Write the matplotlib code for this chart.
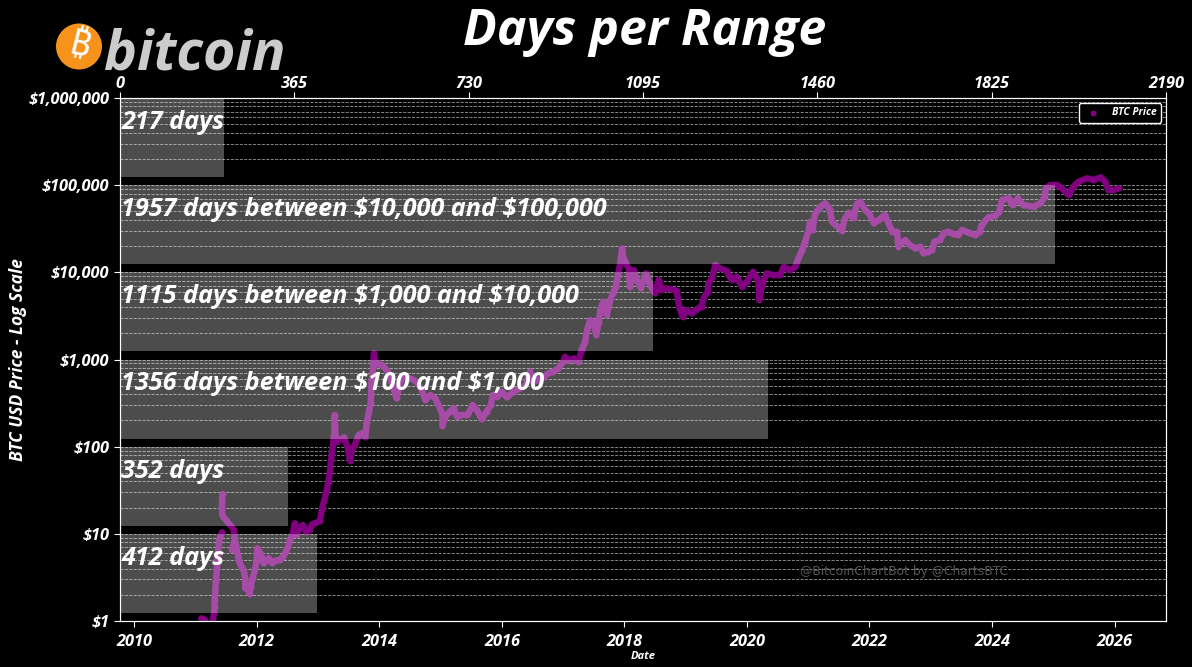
#!/usr/bin/env python3
import matplotlib
matplotlib.use("Agg")
import matplotlib.pyplot as plt
from matplotlib.patches import Ellipse
from matplotlib.ticker import FuncFormatter, LogLocator, NullFormatter

nan = float("nan")

# values: decimal year, USD price (nan marks a gap in the trace)
btc_years = [
    2011.09, 2011.13, 2011.16, nan, 2011.28, 2011.30, 2011.31, 2011.31, 2011.32, 2011.32, 2011.33,
    2011.34, 2011.35, 2011.36, 2011.37, 2011.38, 2011.40, 2011.43, nan, 2011.44, 2011.43, 2011.43,
    2011.43, 2011.45, 2011.50, 2011.53, 2011.58, 2011.62, 2011.63, 2011.64, 2011.59, 2011.66,
    2011.69, 2011.71, 2011.75, 2011.79, 2011.81, 2011.81, 2011.83, 2011.88, 2011.90, 2011.93,
    2011.96, 2011.99, 2012.01, 2012.04, 2012.07, 2012.11, 2012.14, 2012.19, 2012.24, 2012.30,
    2012.37, 2012.43, 2012.48, 2012.51, 2012.54, 2012.58, 2012.62, 2012.65, 2012.69, 2012.75,
    2012.80, 2012.86, 2012.91, 2012.98, 2013.03, 2013.06, 2013.10, 2013.14, 2013.17, 2013.19,
    2013.21, 2013.23, 2013.25, 2013.27, 2013.27, 2013.28, 2013.31, 2013.37, 2013.42, 2013.48,
    2013.52, 2013.55, 2013.60, 2013.66, 2013.71, 2013.77, 2013.79, 2013.83, 2013.86, 2013.87,
    2013.89, 2013.90, 2013.91, 2013.93, 2013.97, 2014.04, 2014.12, 2014.17, 2014.20, 2014.24,
    2014.28, 2014.34, 2014.42, 2014.50, 2014.61, 2014.69, 2014.75, 2014.83, 2014.91, 2014.98,
    2015.03, 2015.03, 2015.07, 2015.15, 2015.21, 2015.27, 2015.34, 2015.43, 2015.45, 2015.52,
    2015.59, 2015.67, 2015.75, 2015.82, 2015.85, 2015.92, 2016.00, 2016.08, 2016.19, 2016.30,
    2016.38, 2016.46, 2016.51, 2016.60, 2016.68, 2016.76, 2016.84, 2016.92, 2017.00, 2017.03,
    2017.09, 2017.17, 2017.25, 2017.30, 2017.36, 2017.36, 2017.39, 2017.44, 2017.49, 2017.54,
    2017.58, 2017.61, 2017.66, 2017.71, 2017.77, 2017.81, 2017.86, 2017.90, 2017.93, 2017.96,
    2017.98, 2018.02, 2018.07, 2018.09, 2018.15, 2018.20, 2018.27, 2018.35, 2018.41, 2018.46,
    2018.50, 2018.56, 2018.61, 2018.69, 2018.77, 2018.85, 2018.88, 2018.90, 2018.95, 2019.01,
    2019.10, 2019.18, 2019.26, 2019.29, 2019.36, 2019.37, 2019.43, 2019.48, 2019.56, 2019.67,
    2019.75, 2019.83, 2019.92, 2020.00, 2020.10, 2020.19, 2020.20, 2020.24, 2020.32, 2020.43,
    2020.54, 2020.60, 2020.71, 2020.79, 2020.84, 2020.90, 2020.95, 2021.00, 2021.03, 2021.07,
    2021.11, 2021.20, 2021.28, 2021.35, 2021.39, 2021.48, 2021.55, 2021.60, 2021.67, 2021.74,
    2021.79, 2021.85, 2021.93, 2022.00, 2022.07, 2022.15, 2022.25, 2022.31, 2022.37, 2022.45,
    2022.47, 2022.58, 2022.66, 2022.75, 2022.83, 2022.88, 2022.96, 2023.02, 2023.06, 2023.15,
    2023.21, 2023.29, 2023.37, 2023.45, 2023.51, 2023.62, 2023.73, 2023.80, 2023.83, 2023.94,
    2024.05, 2024.12, 2024.16, 2024.27, 2024.34, 2024.42, 2024.51, 2024.60, 2024.68, 2024.79,
    2024.86, 2024.88, 2024.95, 2025.06, 2025.14, 2025.25, 2025.33, 2025.41, 2025.55, 2025.66,
    2025.77, 2025.85, 2025.90, 2025.98, 2026.07,
]
btc_prices = [
    1.07, 1.06, 1.01, nan, 1.03, 1.22, 1.46, 1.74, 1.99, 2.23, 2.83,
    3.37, 4.20, 5.47, 6.82, 8.13, 9.28, 10.4, nan, 28.6, 23.4, 19.6,
    17.2, 15.7, 14.4, 13.4, 12.3, 11.1, 9.70, 8.50, 6.53, 7.45,
    5.71, 4.79, 4.20, 3.68, 3.09, 2.37, 2.59, 2.04, 2.48, 3.09,
    3.68, 4.59, 6.82, 6.24, 5.71, 4.59, 4.92, 5.24, 4.67, 4.92,
    5.01, 5.47, 6.41, 7.13, 8.50, 9.70, 13.2, 9.70, 11.6, 12.6,
    10.6, 11.1, 13.0, 13.5, 14.2, 18.8, 24.4, 31.8, 39.7, 51.6,
    70.3, 91.6, 114, 170, 231, 142, 114, 121, 128, 100,
    69, 92, 105, 136, 142, 128, 185, 252, 328, 533,
    694, 827, 1177, 987, 888, 865, 758, 635, 533, 447,
    358, 557, 635, 608, 557, 447, 343, 392, 358, 288,
    231, 173, 221, 252, 275, 221, 231, 231, 237, 301,
    264, 206, 252, 301, 392, 375, 428, 368, 428, 467,
    510, 725, 557, 582, 635, 694, 725, 792, 944, 1079,
    970, 1031, 944, 1285, 1602, 1675, 2180, 2838, 2716, 1910,
    2716, 3864, 4607, 3243, 4817, 5741, 6852, 9741, 12700, 18800,
    15100, 12700, 11100, 6852, 10600, 8170, 6550, 9741, 7480, 6270,
    5741, 8170, 6270, 6550, 6380, 6160, 4607, 3864, 3100, 3700,
    3385, 3765, 4040, 5030, 6000, 7480, 8530, 12100, 11100, 10400,
    8170, 8920, 6852, 7810, 10200, 7810, 4817, 6852, 9741, 9320,
    9320, 11600, 10600, 11600, 14500, 18000, 22500, 29300, 38100, 30600,
    46700, 56700, 61900, 52800, 38100, 33400, 30100, 41700, 48400, 41700,
    60800, 64700, 51900, 46700, 36500, 39800, 45500, 36500, 29300, 29300,
    19700, 23500, 20600, 18800, 19700, 16500, 17300, 18000, 22500, 23500,
    28000, 29300, 27500, 26800, 30600, 28500, 26600, 29300, 34900, 42800,
    44300, 49700, 67600, 70600, 59200, 70600, 59200, 57700, 56700, 61900,
    73800, 92000, 100500, 100500, 92000, 77100, 96100, 109700, 119700, 114600,
    123000, 109700, 88100, 88100, 92000,
]

# days spent in each price decade
range_days = [412, 352, 1356, 1115, 1957, 217]
range_low = [1.24, 12.4, 124, 1240, 12400, 124000]
range_high = [10, 100, 1000, 10000, 100000, 1000000]
range_labels = [
    "412 days",
    "352 days",
    r"1356 days between \$100 and \$1,000",
    r"1115 days between \$1,000 and \$10,000",
    r"1957 days between \$10,000 and \$100,000",
    "217 days",
]

year_ticks = [2010, 2012, 2014, 2016, 2018, 2020, 2022, 2024, 2026]
day_ticks = [0, 365, 730, 1095, 1460, 1825, 2190]
price_ticks = [1, 10, 100, 1000, 10000, 100000, 1000000]

FONT = "Open Sans"
W, H = 1192, 667

plt.rcParams["font.family"] = [FONT, "DejaVu Sans"]
plt.rcParams["font.style"] = "italic"
plt.rcParams["font.weight"] = "bold"

fig = plt.figure(figsize=(W / 100, H / 100), dpi=100, facecolor="black")
ax = fig.add_axes([120 / W, (H - 621) / H, (1166 - 120) / W, (621 - 98) / H], facecolor="black")

# scatter in the original, the line underneath fills what the daily dots would cover
ax.plot(btc_years, btc_prices, color="purple", linewidth=4.6, solid_capstyle="round", solid_joinstyle="round")
ax.scatter(btc_years, btc_prices, s=18, color="purple", linewidths=0, label="BTC Price")
ax.set_yscale("log")
ax.set_ylim(1, 1000000)
ax.set_xlim(2009.766, 2026.84)
ax.set_xticks(year_ticks)
ax.set_yticks(price_ticks)
ax.yaxis.set_major_formatter(FuncFormatter(lambda v, pos: f"\\${v:,.0f}"))
ax.yaxis.set_minor_locator(LogLocator(base=10, subs=range(2, 10), numticks=20))
ax.yaxis.set_minor_formatter(NullFormatter())
ax.tick_params(axis="y", which="minor", length=0)
ax.tick_params(axis="both", which="major", colors="white", labelsize=11.8, length=4, width=0.8)
ax.tick_params(axis="x", which="major", pad=5)
ax.grid(True, axis="y", which="both", color="white", linestyle="--", linewidth=0.6, alpha=0.6)
ax.set_axisbelow(True)
ax.set_xlabel("Date", color="white", fontsize=8, fontweight="bold", labelpad=1)
ax.set_ylabel("BTC USD Price - Log Scale", color="white", fontsize=12.5, fontweight="bold", labelpad=1)

# day count axis along the top, the range bars sit on this one
ax_days = ax.twiny()
ax_days.set_xlim(0, 2190)
ax_days.set_xticks(day_ticks)
ax_days.tick_params(axis="x", colors="white", labelsize=11.8, length=4, width=0.8, pad=0)
ax_days.barh(range_low, range_days, height=[h - l for h, l in zip(range_high, range_low)],
             align="edge", color="white", alpha=0.3, linewidth=0)
for high, label in zip(range_high, range_labels):
    ax_days.text(3, high * 0.525, label, color="white", fontsize=18.2, va="center", ha="left")

for a in (ax, ax_days):
    for spine in a.spines.values():
        spine.set_color("white")
        spine.set_linewidth(0.8)

leg = ax.legend(loc="upper right", fontsize=7.5, facecolor="black", edgecolor="white",
                labelcolor="white", borderpad=0.4, framealpha=1)
leg.set_zorder(5)

fig.text(645 / W, 1 - 32 / H, "Days per Range", color="white", fontsize=36, ha="center", va="center")
fig.text(800 / W, 1 - 571 / H, "@BitcoinChartBot by @ChartsBTC", color="#555555",
         fontsize=8.8, family="DejaVu Sans", style="normal", weight="normal", va="center", ha="left")

# logo
fig.add_artist(Ellipse((79 / W, 1 - 46.5 / H), 46 / W, 46 / H, transform=fig.transFigure,
                       facecolor="#F7931A", edgecolor="none"))
fig.text(79.5 / W, 1 - 46.5 / H, "₿", color="white", fontsize=26, rotation=-14, ha="center", va="center",
         family=["Noto Sans", "Roboto", "Open Sans", "Lato", "Inter", "Liberation Sans"],
         style="normal", weight="bold")
fig.text(104 / W, 1 - 69 / H, "bitcoin", color="#CCCCCC", fontsize=40, ha="left", va="baseline")

fig.savefig("out.png", dpi=100, facecolor="black")
